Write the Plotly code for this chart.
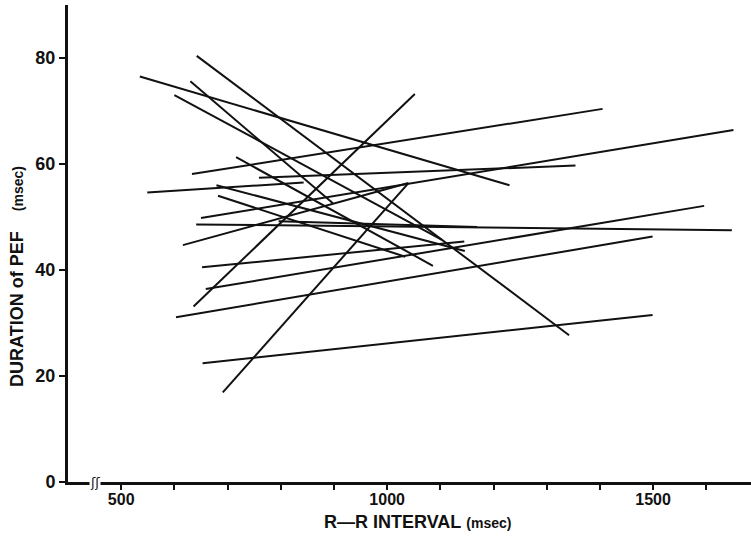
import plotly.graph_objects as go

# Regression segments: start and end of each subject's line (R-R interval msec, PEF duration msec)
x_start = [535, 600, 630, 642, 716, 679, 682, 549, 633, 759, 650, 616, 641, 796, 652, 659, 603, 653, 636, 691]
y_start = [76.5, 73.0, 75.6, 80.4, 61.3, 56.0, 54.0, 54.6, 58.1, 57.4, 49.8, 44.7, 48.6, 49.2, 40.5, 36.4, 31.1, 22.4, 33.1, 16.9]
x_end = [1230, 1103, 898, 1342, 1086, 1146, 1034, 843, 1405, 1354, 1651, 1040, 1648, 1169, 1145, 1596, 1499, 1499, 1052, 1040]
y_end = [56.0, 45.7, 52.6, 27.7, 40.8, 43.6, 42.5, 56.5, 70.4, 59.7, 66.4, 56.4, 47.5, 48.1, 45.4, 52.1, 46.3, 31.5, 73.2, 56.4]

x_tick_vals = [500, 600, 700, 800, 900, 1000, 1100, 1200, 1300, 1400, 1500, 1600]
x_tick_text = ["<b>500</b>", "", "", "", "", "<b>1000</b>", "", "", "", "", "<b>1500</b>", ""]
y_tick_vals = [0, 20, 40, 60, 80]
y_tick_text = ["<b>0</b>", "<b>20</b>", "<b>40</b>", "<b>60</b>", "<b>80</b>"]

fig = go.Figure()
for xs, ys, xe, ye in zip(x_start, y_start, x_end, y_end):
    fig.add_trace(go.Scatter(x=[xs, xe], y=[ys, ye], mode="lines",
                             line=dict(color="#111111", width=2),
                             showlegend=False, hoverinfo="skip"))

fam = "Liberation Sans Narrow, Arial Narrow, Liberation Sans, Arial, sans-serif"

fig.update_layout(
    width=751, height=536,
    margin=dict(l=68, r=0, t=5, b=54, autoexpand=False),
    paper_bgcolor="white", plot_bgcolor="white",
    xaxis=dict(range=[400, 1684], showgrid=False, zeroline=False, automargin=False,
               showline=True, linewidth=3, linecolor="#111111",
               ticks="outside", ticklen=5, tickwidth=1.5, tickcolor="#111111",
               tickvals=x_tick_vals, ticktext=x_tick_text, ticklabelstandoff=-4,
               tickfont=dict(family=fam, size=16, color="#111111")),
    yaxis=dict(range=[0, 90], showgrid=False, zeroline=False, automargin=False,
               showline=True, linewidth=3, linecolor="#111111",
               ticks="outside", ticklen=6, tickwidth=1.5, tickcolor="#111111",
               tickvals=y_tick_vals, ticktext=y_tick_text,
               tickfont=dict(family=fam, size=18, color="#111111")),
    annotations=[
        dict(x=0.512, y=0, xref="paper", yref="paper", yshift=-40,
             xanchor="center", yanchor="middle", showarrow=False,
             text="<b>R—R INTERVAL</b> <span style='font-size:14px'><b>(msec)</b></span>",
             font=dict(family="Liberation Sans, Arial, sans-serif", size=18, color="#111111")),
        dict(x=0, y=0.43, xref="paper", yref="paper", xshift=-51,
             xanchor="center", yanchor="middle", showarrow=False, textangle=-90,
             text="<b>DURATION of PEF</b>    <span style='font-size:14px'><b>(msec)</b></span>",
             font=dict(family="Liberation Sans, Arial, sans-serif", size=18, color="#111111")),
        dict(x=451, y=0, xref="x", yref="y", showarrow=False,
             xanchor="center", yanchor="middle", text="ʃʃ",
             bgcolor="white", borderpad=0,
             font=dict(family="DejaVu Sans, sans-serif", size=13, color="#111111")),
    ],
)

fig.write_html("out.html", config={"displayModeBar": False},
               post_script="document.body.style.margin='0';document.body.style.overflow='hidden';")
